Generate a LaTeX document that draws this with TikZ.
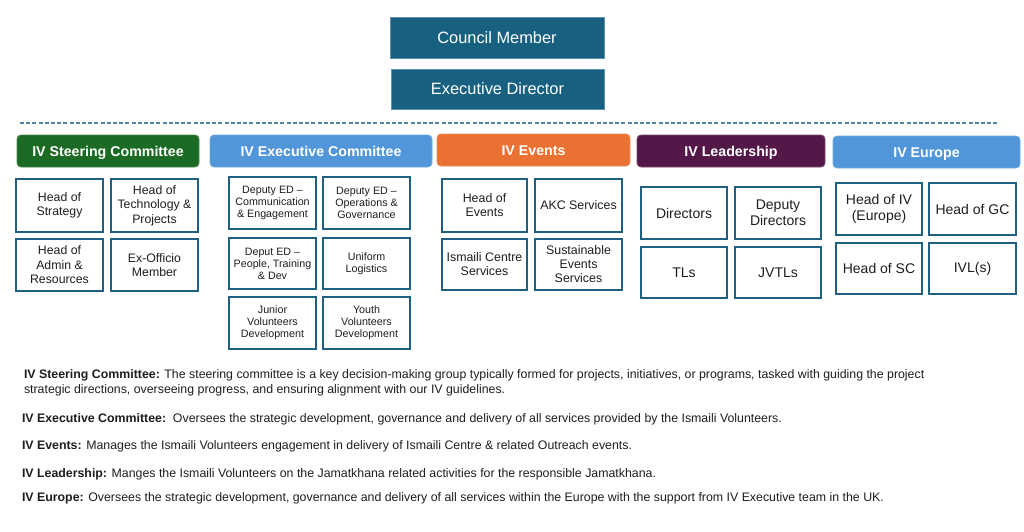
\documentclass[tikz,border=0pt]{standalone}
\usepackage{fontspec}
\setmainfont{Liberation Sans}
\definecolor{navy}{HTML}{176080}
\definecolor{navyedge}{HTML}{5E92AE}
\definecolor{subedge}{HTML}{1F5F80}
\definecolor{scgreen}{HTML}{1B6B24}
\definecolor{ecblue}{HTML}{5096D9}
\definecolor{evorange}{HTML}{E97132}
\definecolor{ldpurple}{HTML}{541848}
\definecolor{dashc}{HTML}{4F86A6}
\definecolor{txt}{HTML}{1E1E1E}
\tikzset{
  topbox/.style={draw=navyedge, line width=0.8pt, fill=navy, text=white, anchor=north west, inner sep=0pt, outer sep=0pt, font=\fontsize{16.4}{19}\selectfont, text height=11.7pt, text depth=0pt},
  headbox/.style={draw=#1!80!white, line width=0.8pt, fill=#1, text=white, rounded corners=4pt, anchor=north west, inner sep=0pt, outer sep=0pt, font=\fontsize{14.2}{17}\selectfont\bfseries, text height=10.2pt, text depth=0pt},
  subbox/.style={draw=subedge, line width=1.4pt, fill=white, text=txt, anchor=north west, inner sep=0pt, outer sep=0pt, align=center},
  fsteer/.style={font=\fontsize{12.3}{14.6}\selectfont},
  fexec/.style={font=\fontsize{10.7}{11.9}\selectfont},
  fevent/.style={font=\fontsize{12.4}{14}\selectfont},
  flead/.style={font=\fontsize{14}{16}\selectfont},
  para/.style={anchor=base west, inner sep=0pt, outer sep=0pt, align=left, text=txt, font=\fontsize{12.35}{14.5}\selectfont},
}
\begin{document}
\begin{tikzpicture}[x=1pt,y=-1pt]
\path[use as bounding box, fill=white] (0,0) rectangle (1024,532);

% top boxes
\node[topbox, minimum width=214pt, minimum height=41pt] (cm) at (390,17) {Council Member};
\node[topbox, minimum width=213pt, minimum height=40pt] (ed) at (391,69) {Executive Director};

% dashed separator
\coordinate (dl) at (20,123);
\coordinate (dr) at (997,123);
\draw[dashc, line width=1.3pt, dash pattern=on 4pt off 2.2pt] (dl) -- (dr);

% headers
\node[headbox=scgreen, minimum width=182pt, minimum height=32pt] (hsc) at (17,135) {IV Steering Committee};
\node[headbox=ecblue, minimum width=222pt, minimum height=32pt] (hec) at (210,135) {IV Executive Committee};
\node[headbox=evorange, minimum width=193pt, minimum height=32pt] (hev) at (437,134) {IV Events};
\node[headbox=ldpurple, minimum width=188pt, minimum height=32pt] (hld) at (637,135) {IV Leadership};
\node[headbox=ecblue, minimum width=187pt, minimum height=32pt] (heu) at (833,136) {IV Europe};

% steering committee
\node[subbox, fsteer, minimum width=87pt, minimum height=53pt] (sc1) at (16,179) {Head of\\Strategy};
\node[subbox, fsteer, minimum width=87pt, minimum height=53pt] (sc2) at (111,179) {Head of\\Technology \&\\Projects};
\node[subbox, fsteer, minimum width=87pt, minimum height=52pt] (sc3) at (16,239) {Head of\\Admin \&\\Resources};
\node[subbox, fsteer, minimum width=87pt, minimum height=52pt] (sc4) at (111,239) {Ex-Officio\\Member};

% executive committee
\node[subbox, fexec, minimum width=87pt, minimum height=52pt] (ec1) at (229,177) {Deputy ED --\\Communication\\\& Engagement};
\node[subbox, fexec, minimum width=87pt, minimum height=52pt] (ec2) at (323,177) {Deputy ED --\\Operations \&\\Governance};
\node[subbox, fexec, minimum width=87pt, minimum height=51pt] (ec3) at (229,238) {Deput ED --\\People, Training\\\& Dev};
\node[subbox, fexec, minimum width=87pt, minimum height=51pt] (ec4) at (323,238) {Uniform\\Logistics};
\node[subbox, fexec, minimum width=87pt, minimum height=52pt] (ec5) at (229,297) {Junior\\Volunteers\\Development};
\node[subbox, fexec, minimum width=87pt, minimum height=52pt] (ec6) at (323,297) {Youth\\Volunteers\\Development};

% events
\node[subbox, fevent, minimum width=85pt, minimum height=53pt] (ev1) at (442,179) {Head of\\Events};
\node[subbox, fevent, minimum width=87pt, minimum height=53pt] (ev2) at (535,179) {AKC Services};
\node[subbox, fevent, minimum width=85pt, minimum height=51pt] (ev3) at (442,239) {Ismaili Centre\\Services};
\node[subbox, fevent, minimum width=87pt, minimum height=51pt] (ev4) at (535,239) {Sustainable\\Events\\Services};

% leadership
\node[subbox, flead, minimum width=86pt, minimum height=52pt] (ld1) at (641,187) {Directors};
\node[subbox, flead, minimum width=86pt, minimum height=52pt] (ld2) at (735,187) {Deputy\\Directors};
\node[subbox, flead, minimum width=86pt, minimum height=51pt] (ld3) at (641,247) {TLs};
\node[subbox, flead, minimum width=86pt, minimum height=51pt] (ld4) at (735,247) {JVTLs};

% europe
\node[subbox, flead, minimum width=86pt, minimum height=52pt] (eu1) at (836,183) {Head of IV\\(Europe)};
\node[subbox, flead, minimum width=87pt, minimum height=52pt] (eu2) at (929,183) {Head of GC};
\node[subbox, flead, minimum width=86pt, minimum height=51pt] (eu3) at (836,243) {Head of SC};
\node[subbox, flead, minimum width=87pt, minimum height=51pt] (eu4) at (929,243) {IVL(s)};

% descriptions (base anchor = last line)
\node[para, font=\fontsize{12.35}{14.3}\selectfont] (p1) at (24,393) {\textbf{IV Steering Committee:} The steering committee is a key decision-making group typically formed for projects, initiatives, or programs, tasked with guiding the project\\strategic directions, overseeing progress, and ensuring alignment with our IV guidelines.};
\node[para] (p2) at (22,422) {\textbf{IV Executive Committee:}\ \ Oversees the strategic development, governance and delivery of all services provided by the Ismaili Volunteers.};
\node[para] (p3) at (22,449) {\textbf{IV Events:} Manages the Ismaili Volunteers engagement in delivery of Ismaili Centre \& related Outreach events.};
\node[para] (p4) at (22,477) {\textbf{IV Leadership:} Manges the Ismaili Volunteers on the Jamatkhana related activities for the responsible Jamatkhana.};
\node[para] (p5) at (22,501) {\textbf{IV Europe:} Oversees the strategic development, governance and delivery of all services within the Europe with the support from IV Executive team in the UK.};
\end{tikzpicture}
\end{document}
